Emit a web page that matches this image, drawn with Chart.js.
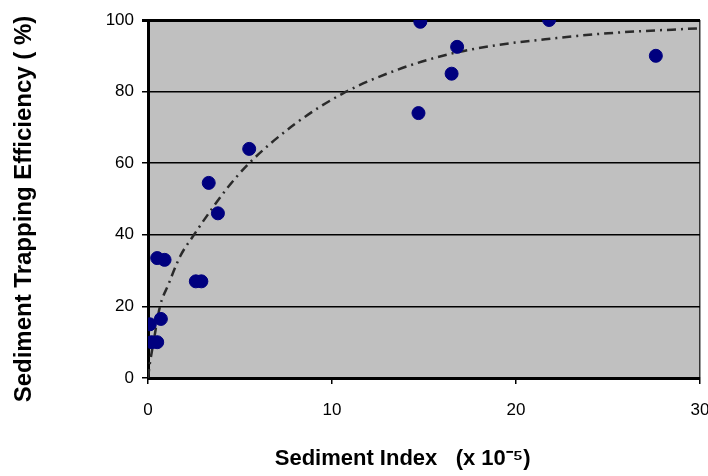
<!DOCTYPE html>
<html>
<head>
<meta charset="utf-8">
<script src="https://cdn.jsdelivr.net/npm/chart.js@4/dist/chart.umd.min.js"></script>
<style>
  html, body { margin: 0; padding: 0; background: #fff; }
  #wrap { width: 708px; height: 476px; }
</style>
</head>
<body>
<div id="wrap"><canvas id="chart" width="708" height="476"></canvas></div>
<script>
// observed points (sediment index x 10^-5, trapping efficiency %)
const OBS_X = [0.1, 0.2, 0.5, 0.7, 0.5, 0.9, 2.6, 2.9, 3.3, 3.8, 5.5, 14.7, 14.8, 16.5, 16.8, 21.8, 27.6];
const OBS_Y = [15, 10, 10, 16.5, 33.5, 33, 27, 27, 54.5, 46, 64, 74, 99.5, 85, 92.5, 100, 90];

// trend curve
const TREND_X = [0, 0.1, 0.3, 0.65, 1.1, 1.75, 2.5, 3.3, 4.3, 5.5, 8, 10.6, 13.5, 16.4, 19, 21.9, 25, 30];
const TREND_Y = [0, 4, 10, 20, 26, 34, 40, 46, 53, 60, 71, 79.5, 86, 90.5, 93, 94.8, 96.3, 97.7];

const X_TICKS = [0, 10, 20, 30];
const Y_TICKS = [0, 20, 40, 60, 80, 100];

const plotBg = {
  id: "plotBg",
  beforeDraw(chart) {
    const { ctx, chartArea: a } = chart;
    ctx.save();
    ctx.fillStyle = "#c0c0c0";
    ctx.fillRect(a.left, a.top, a.right - a.left, a.bottom - a.top);
    ctx.restore();
  },
};

const toPts = (xs, ys) => xs.map((x, i) => ({ x, y: ys[i] }));

new Chart(document.getElementById("chart"), {
  type: "scatter",
  data: {
    datasets: [
      {
        label: "Trend",
        type: "line",
        data: toPts(TREND_X, TREND_Y),
        borderColor: "#2a2a2a",
        borderWidth: 2.5,
        borderDash: [9, 5, 2, 5],
        pointRadius: 0,
        tension: 0.4,
        cubicInterpolationMode: "monotone",
        fill: false,
        order: 2,
      },
      {
        label: "Observed",
        data: toPts(OBS_X, OBS_Y),
        backgroundColor: "#00007f",
        borderColor: "#00007f",
        pointRadius: 6.5,
        pointHoverRadius: 6.5,
        order: 1,
      },
    ],
  },
  options: {
    responsive: false,
    animation: false,
    layout: { padding: { top: 20, right: 8, left: 0, bottom: 0 } },
    plugins: { legend: { display: false }, tooltip: { enabled: false } },
    scales: {
      x: {
        type: "linear",
        min: 0,
        max: 30,
        afterBuildTicks: (s) => { s.ticks = X_TICKS.map((v) => ({ value: v })); },
        afterFit: (s) => { s.height = 98; s.paddingRight = 0; s.paddingLeft = 0; },
        ticks: { color: "#000", font: { family: "Liberation Sans", size: 17 }, padding: 16 },
        grid: {
          color: (c) => (c.tick && c.tick.value === 30 ? "#333" : "transparent"),
          lineWidth: 1.5,
          tickColor: "#000",
          tickLength: 6,
        },
        border: { display: true, color: "#000", width: 3 },
        title: {
          display: true,
          text: "Sediment Index   (x 10\u207B\u2075)       ",
          color: "#000",
          font: { family: "Liberation Sans", size: 22, weight: "bold" },
          padding: { top: 0, bottom: 4 },
        },
      },
      y: {
        min: 0,
        max: 100,
        afterBuildTicks: (s) => { s.ticks = Y_TICKS.map((v) => ({ value: v })); },
        afterFit: (s) => { s.width = 148; },
        ticks: { color: "#000", font: { family: "Liberation Sans", size: 17 }, padding: 8 },
        grid: {
          color: "#000",
          lineWidth: (c) => (c.tick && c.tick.value === 100 ? 3 : 1.5),
          tickColor: "#000",
          tickLength: 6,
        },
        border: { display: true, color: "#000", width: 3 },
        title: {
          display: true,
          text: "Sediment Trapping Efficiency ( %)   ",
          color: "#000",
          font: { family: "Liberation Sans", size: 24, weight: "bold" },
          padding: { top: 10, bottom: 0 },
        },
      },
    },
  },
  plugins: [plotBg],
});
</script>
</body>
</html>
